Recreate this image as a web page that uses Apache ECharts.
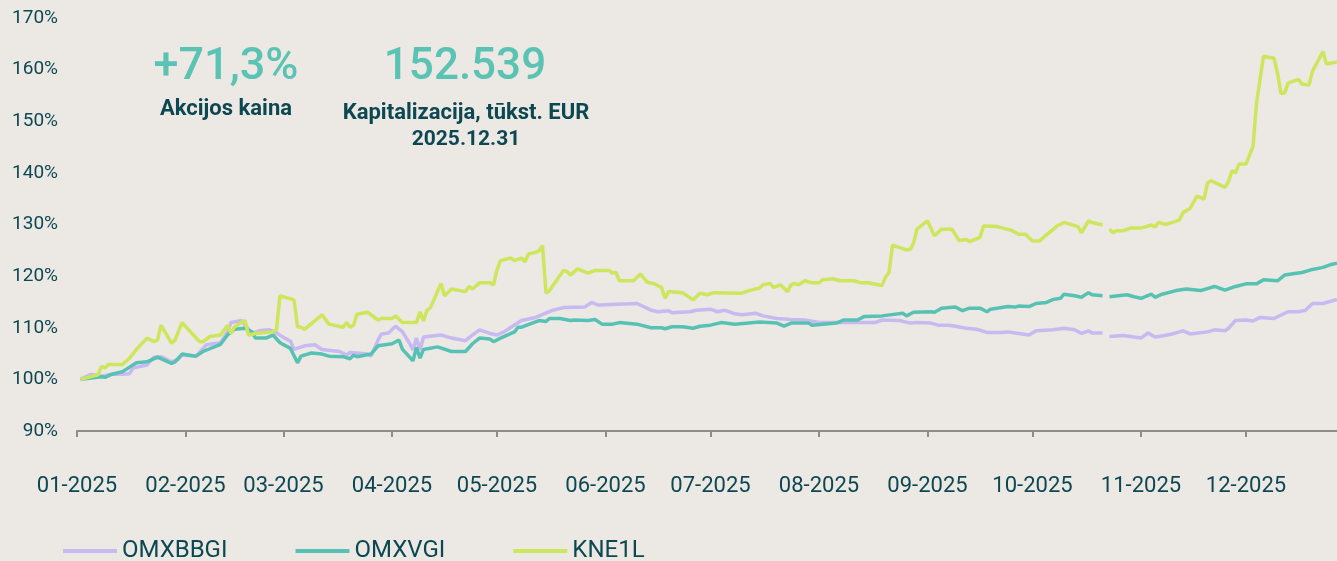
<!DOCTYPE html>
<html>
<head>
<meta charset="utf-8">
<script src="https://cdn.jsdelivr.net/npm/echarts@6/dist/echarts.min.js"></script>
<style>
html, body { margin: 0; padding: 0; background: #ece8e4; }
#chart { width: 1337px; height: 561px; }
</style>
</head>
<body>
<div id="chart"></div>
<script>
// x = day of year 2025 (0 = Jan 1), y = index value in %
var monthStarts = [0, 31, 59, 90, 120, 151, 181, 212, 243, 273, 304, 334];
var monthLabels = ['01-2025', '02-2025', '03-2025', '04-2025', '05-2025', '06-2025',
    '07-2025', '08-2025', '09-2025', '10-2025', '11-2025', '12-2025'];
var seriesNames = ['OMXBBGI', 'OMXVGI', 'KNE1L'];

var omxbbgi = [[1,100.0],[4,101.0],[7,100.6],[10,101.0],[13,101.0],[15,101.1],[16,102.2],[20,102.8],[22,104.3],[24,104.4],[27,103.4],[29,103.9],[30,104.7],[34,104.5],[37,106.7],[41,107.1],[43,109.2],[44,111.0],[47,111.4],[50,108.9],[52,109.4],[55,109.6],[57,109.0],[59,108.1],[61,107.4],[62,105.8],[65,106.5],[68,106.7],[70,105.8],[75,105.4],[77,104.7],[78,105.2],[83,104.9],[84,104.5],[86,107.6],[87,108.8],[89,109.0],[91,110.3],[93,109.2],[95,107.0],[96,105.7],[97,108.0],[98,105.7],[99,108.2],[104,108.6],[107,108.0],[111,107.5],[113,108.6],[115,109.6],[118,108.9],[120,108.6],[122,109.2],[124,110.1],[127,111.4],[131,112.0],[136,113.4],[139,113.9],[145,114.0],[147,114.9],[149,114.4],[160,114.7],[164,113.4],[166,113.1],[169,113.3],[170,112.9],[175,113.1],[177,113.4],[181,113.6],[183,113.1],[185,113.4],[188,112.7],[190,112.5],[194,112.8],[196,112.3],[200,111.8],[204,111.6],[208,111.5],[212,111.0],[219,111.0],[228,111.0],[230,111.5],[235,111.4],[238,110.9],[240,111.0],[244,110.9],[246,110.5],[249,110.5],[251,110.3],[254,109.9],[257,109.7],[260,109.1],[264,109.1],[266,109.2],[269,108.9],[272,108.6],[274,109.4],[279,109.6],[282,109.9],[285,109.6],[287,108.9],[289,109.4],[290,109.0],[293,109.0],[294,null],[295,108.3],[299,108.5],[301,108.3],[304,108.0],[306,109.0],[308,108.2],[310,108.4],[313,108.8],[316,109.4],[318,108.8],[323,109.2],[325,109.6],[328,109.4],[329,109.9],[331,111.4],[334,111.5],[336,111.3],[338,112.0],[342,111.8],[346,113.1],[349,113.1],[351,113.4],[353,114.7],[356,114.7],[360,115.5]];

var omxvgi = [[1,100.0],[7,100.5],[8,100.4],[10,101.0],[13,101.5],[17,103.2],[20,103.4],[23,104.3],[27,103.1],[28,103.4],[30,104.9],[34,104.5],[36,105.4],[41,106.8],[43,108.6],[45,109.7],[48,109.9],[50,109.2],[51,108.0],[54,108.0],[56,108.6],[58,107.1],[61,106.0],[63,103.2],[64,104.5],[67,105.1],[70,104.9],[72,104.5],[76,104.4],[78,104.0],[79,104.7],[80,104.4],[84,104.9],[86,106.5],[90,106.9],[92,107.6],[93,105.8],[96,103.6],[97,106.2],[98,104.1],[99,105.8],[103,106.3],[107,105.4],[111,105.4],[113,106.9],[115,108.0],[118,107.8],[119,107.3],[121,108.0],[125,109.2],[126,110.1],[127,110.1],[132,111.4],[134,111.2],[135,111.8],[138,111.8],[141,111.4],[142,111.5],[146,111.4],[148,111.6],[150,110.7],[153,110.7],[155,111.0],[160,110.7],[164,110.0],[167,110.0],[168,109.8],[170,110.2],[173,110.2],[176,109.9],[178,110.3],[181,110.5],[184,111.0],[188,110.7],[195,111.1],[200,110.9],[202,110.3],[204,110.9],[209,110.9],[210,110.5],[217,110.9],[218,111.2],[219,111.5],[223,111.5],[225,112.2],[230,112.3],[236,112.8],[237,112.3],[239,113.0],[244,113.1],[245,113.0],[247,113.8],[251,114.0],[253,113.3],[255,113.8],[258,113.8],[260,113.1],[261,113.6],[266,114.1],[268,114.0],[269,114.2],[272,114.1],[274,114.7],[277,114.9],[279,115.5],[281,115.7],[282,116.5],[285,116.2],[287,115.9],[289,116.8],[290,116.4],[293,116.2],[294,null],[295,116.0],[300,116.4],[302,116.0],[304,115.7],[307,116.5],[308,115.9],[310,116.5],[314,117.2],[317,117.5],[321,117.2],[325,118.0],[328,117.3],[331,118.0],[334,118.5],[337,118.5],[339,119.3],[343,119.1],[345,120.2],[350,120.7],[353,121.3],[356,121.7],[358,122.2],[360,122.5]];

var kne1l = [[1,100.0],[6,100.9],[7,102.5],[8,102.2],[9,102.9],[13,102.9],[15,104.1],[17,105.8],[20,108.0],[22,107.3],[23,107.6],[24,110.5],[27,107.0],[28,107.6],[30,111.0],[35,107.3],[36,107.3],[38,108.3],[41,108.6],[43,110.5],[44,108.9],[45,110.2],[48,111.4],[49,108.6],[51,108.9],[56,109.2],[57,109.7],[58,116.2],[62,115.4],[63,110.2],[64,110.1],[65,109.7],[70,112.5],[72,110.7],[76,110.1],[77,111.0],[78,110.1],[79,110.5],[80,112.6],[83,113.0],[86,111.5],[87,111.8],[90,111.8],[91,112.3],[93,111.0],[97,111.0],[98,113.1],[99,111.3],[100,113.4],[101,113.9],[104,118.6],[105,116.2],[107,117.5],[111,117.0],[112,118.0],[113,117.5],[115,118.7],[118,118.7],[119,118.3],[120,121.2],[121,123.0],[124,123.5],[125,123.0],[127,123.5],[128,122.8],[129,124.3],[131,124.6],[132,124.9],[133,125.9],[134,116.7],[135,117.2],[139,121.1],[140,120.9],[141,120.2],[143,121.4],[146,120.6],[148,121.1],[152,121.1],[153,120.6],[154,120.7],[155,119.1],[159,119.1],[161,120.4],[163,118.8],[165,118.5],[167,117.8],[168,115.7],[169,117.0],[173,116.8],[176,115.4],[178,116.7],[180,116.4],[182,116.8],[190,116.7],[192,117.2],[195,117.7],[196,118.3],[198,118.6],[199,117.8],[201,118.3],[203,117.0],[204,118.3],[205,118.6],[206,118.3],[208,119.1],[210,118.7],[212,118.7],[213,119.3],[216,119.5],[218,119.1],[222,119.1],[224,118.7],[226,118.7],[230,118.2],[231,119.8],[232,120.7],[233,126.0],[237,125.1],[238,125.1],[239,126.4],[240,129.1],[243,130.7],[245,127.8],[247,129.1],[250,129.1],[252,126.9],[254,127.1],[255,126.7],[258,127.5],[259,129.7],[263,129.6],[265,129.2],[267,128.9],[269,128.1],[271,128.1],[273,126.8],[275,126.8],[277,128.0],[280,129.7],[282,130.4],[286,129.6],[287,128.4],[289,130.7],[290,130.4],[293,129.9],[294,null],[295,129.1],[296,128.4],[297,128.8],[299,128.8],[301,129.3],[304,129.3],[307,129.9],[308,129.5],[309,130.4],[311,130.0],[313,130.4],[315,130.9],[316,132.3],[318,133.1],[320,135.5],[322,134.9],[323,138.0],[324,138.5],[328,137.2],[329,138.3],[330,140.4],[331,140.0],[332,141.7],[334,141.7],[336,145.1],[337,153.5],[339,162.6],[342,162.2],[343,159.3],[344,155.4],[345,155.4],[346,157.4],[349,158.1],[350,157.2],[352,157.0],[353,159.7],[356,163.5],[357,161.1],[360,161.5]];

var colors = ['#c8b9f1', '#57c2b4', '#cde65c'];
var textDark = '#0d4852';

var chart = echarts.init(document.getElementById('chart'));
var option = {
    backgroundColor: '#ece8e4',
    animation: false,
    textStyle: { fontFamily: 'Roboto' },
    grid: { left: 77, right: -17.5, top: 18, bottom: 130, outerBoundsMode: 'none' },
    xAxis: {
        type: 'value',
        min: 0,
        max: 365,
        axisLine: { lineStyle: { color: '#8c8c8c', width: 2 } },
        axisTick: { show: true, customValues: monthStarts, length: 6, lineStyle: { color: '#8c8c8c', width: 2 } },
        axisLabel: {
            customValues: monthStarts,
            formatter: function(v) {
                return monthLabels[monthStarts.indexOf(v)];
            },
            fontSize: 22,
            color: textDark,
            margin: 44
        },
        splitLine: { show: false }
    },
    yAxis: {
        type: 'value',
        min: 90,
        max: 170,
        interval: 10,
        axisLine: { show: false },
        axisTick: { show: false },
        splitLine: { show: false },
        axisLabel: { formatter: '{value}%', fontSize: 19, color: textDark, margin: 19 }
    },
    legend: {
        left: 63,
        top: 539,
        padding: 0,
        icon: 'rect',
        itemWidth: 54,
        itemHeight: 4,
        itemGap: 68,
        textStyle: { fontSize: 24, color: textDark },
        data: seriesNames
    },
    graphic: [
        { type: 'text', x: 226, y: 68, style: { text: '+71,3%', fill: '#5bc3b4', fontSize: 45, fontWeight: 500, fontFamily: 'Roboto', align: 'center', verticalAlign: 'middle' } },
        { type: 'text', x: 226, y: 109, style: { text: 'Akcijos kaina', fill: textDark, fontSize: 22, fontWeight: 'bold', fontFamily: 'Roboto', align: 'center', verticalAlign: 'middle' } },
        { type: 'text', x: 465, y: 68, style: { text: '152.539', fill: '#5bc3b4', fontSize: 44, fontWeight: 500, fontFamily: 'Roboto', align: 'center', verticalAlign: 'middle' } },
        { type: 'text', x: 466, y: 113, style: { text: 'Kapitalizacija, tūkst. EUR', fill: textDark, fontSize: 22, fontWeight: 'bold', fontFamily: 'Roboto', align: 'center', verticalAlign: 'middle' } },
        { type: 'text', x: 466, y: 140, style: { text: '2025.12.31', fill: textDark, fontSize: 21, fontWeight: 'bold', fontFamily: 'Roboto', align: 'center', verticalAlign: 'middle' } }
    ],
    series: [omxbbgi, omxvgi, kne1l].map(function(d, i) {
        return {
            name: seriesNames[i],
            type: 'line',
            data: d,
            showSymbol: false,
            connectNulls: false,
            color: colors[i],
            lineStyle: { width: 3.5, color: colors[i] },
            emphasis: { disabled: true }
        };
    })
};
chart.setOption(option);
</script>
</body>
</html>
